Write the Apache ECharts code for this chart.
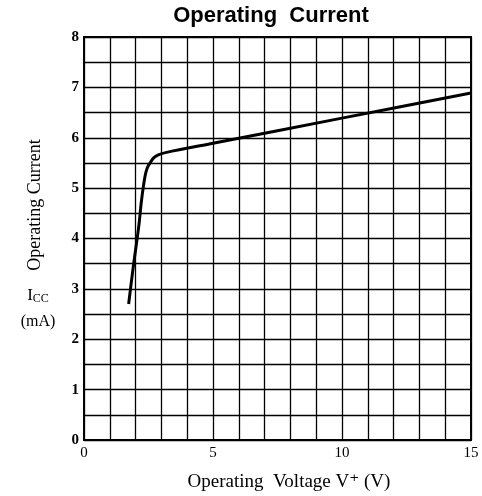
<!DOCTYPE html>
<html>
<head>
<meta charset="utf-8">
<script src="https://cdn.jsdelivr.net/npm/echarts@6/dist/echarts.min.js"></script>
<style>html,body{margin:0;padding:0;background:#fff}#c{width:482px;height:496px}</style>
</head>
<body>
<div id="c"></div>
<script>
var voltage = [1.73, 1.91, 2.12, 2.23, 2.36, 2.45, 2.56, 2.70, 2.88, 3.20, 5.0, 10.0, 15.0];
var current = [2.70, 3.44, 4.23, 4.76, 5.22, 5.40, 5.50, 5.60, 5.66, 5.71, 5.89, 6.39, 6.89];
var xTickLabels = [0, 5, 10, 15];
var yTickLabels = [0, 1, 2, 3, 4, 5, 6, 7, 8];

var chart = echarts.init(document.getElementById('c'));
var pts = voltage.map(function (v, i) { return [v, current[i]]; });
var serif = '"Liberation Serif", "DejaVu Serif", serif';
chart.setOption({
  animation: false,
  backgroundColor: '#fff',
  grid: { left: 84, right: 11, top: 37, bottom: 56 },
  xAxis: {
    type: 'value', min: 0, max: 15, interval: 1,
    axisLine: { show: true, lineStyle: { color: '#000', width: 2 } },
    axisTick: { show: false },
    splitLine: { show: true, lineStyle: { color: '#000', width: 1.3 } },
    axisLabel: {
      color: '#000', fontFamily: serif, fontSize: 15, margin: 6,
      formatter: function (v) { return xTickLabels.indexOf(v) >= 0 ? String(v) : ''; }
    }
  },
  yAxis: {
    type: 'value', min: 0, max: 8, interval: 0.5,
    axisLine: { show: true, lineStyle: { color: '#000', width: 2 } },
    axisTick: { show: false },
    splitLine: { show: true, lineStyle: { color: '#000', width: 1.3 } },
    axisLabel: {
      color: '#000', fontFamily: serif, fontSize: 15, fontWeight: 'bold', margin: 5,
      formatter: function (v) { return yTickLabels.indexOf(v) >= 0 ? String(v) : ''; }
    }
  },
  graphic: [
    { type: 'rect', shape: { x: 84, y: 37, width: 387, height: 403 }, style: { fill: 'none', stroke: '#000', lineWidth: 2 }, z: 10, silent: true },
    { type: 'text', x: 271, y: 16, style: { text: 'Operating  Current', font: 'bold 22px "Liberation Sans", Arial, sans-serif', fill: '#000', align: 'center', verticalAlign: 'middle' } },
    { type: 'text', x: 289, y: 482, style: { text: 'Operating  Voltage V\u207A (V)', font: '19px ' + serif, fill: '#000', align: 'center', verticalAlign: 'middle' } },
    { type: 'text', x: 35, y: 205, rotation: Math.PI / 2, style: { text: 'Operating Current', font: '18px ' + serif, fill: '#000', align: 'center', verticalAlign: 'middle' } },
    { type: 'text', x: 38, y: 296, style: { text: '{a|I}{b|CC}', align: 'center', verticalAlign: 'middle', rich: { a: { fontFamily: serif, fontSize: 17, fill: '#000', color: '#000' }, b: { fontFamily: serif, fontSize: 12, fill: '#000', color: '#000', padding: [5, 0, 0, 0] } } } },
    { type: 'text', x: 38, y: 322, style: { text: '(mA)', font: '16px ' + serif, fill: '#000', align: 'center', verticalAlign: 'middle' } }
  ],
  series: [{
    type: 'line', data: pts, showSymbol: false, smooth: 0.3,
    lineStyle: { color: '#000', width: 3 }, z: 20
  }]
});
</script>
</body>
</html>
